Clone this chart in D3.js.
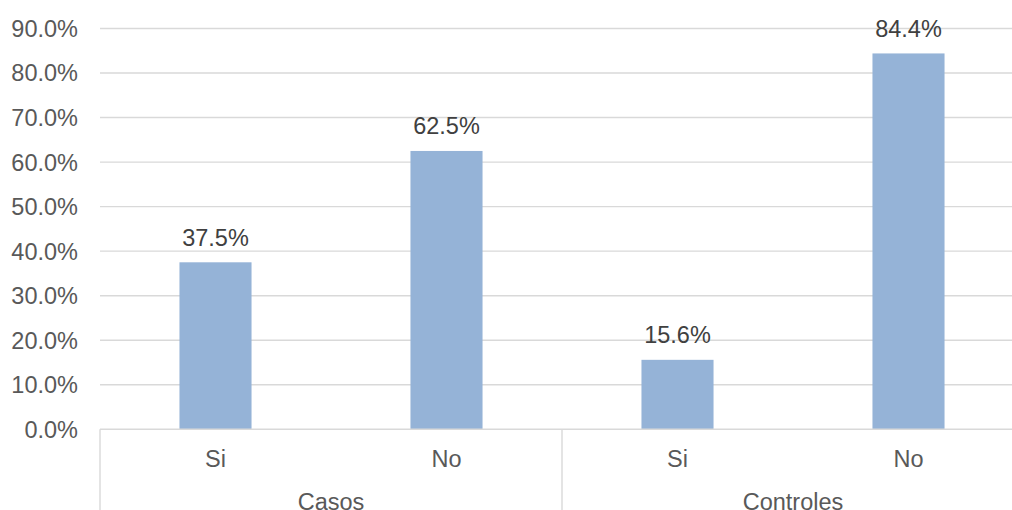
<!DOCTYPE html>
<html>
<head>
<meta charset="utf-8">
<script src="https://cdn.jsdelivr.net/npm/d3@7"></script>
<style>
  html, body { margin: 0; padding: 0; background: #fff; }
  svg { display: block; font-family: "Liberation Sans", Arial, sans-serif; }
</style>
</head>
<body>
<svg id="chart" width="1012" height="510"></svg>
<script>
// Grouped categories and their percentages
const groups = ["Casos", "Controles"];
const answers = ["Si", "No"];
const values = [
  [37.5, 62.5],   // Casos: Si, No
  [15.6, 84.4]    // Controles: Si, No
];
const yTicks = [0, 10, 20, 30, 40, 50, 60, 70, 80, 90];

const svg = d3.select("#chart");
const plotLeft = 100, plotRight = 1024, plotTop = 28.5, plotBase = 429.3;
const textColor = "#595959", valueColor = "#404040", gridColor = "#d9d9d9", barColor = "#95b3d7";

const y = d3.scaleLinear().domain([0, 90]).range([plotBase, plotTop]);
const xGroup = d3.scaleBand().domain(groups).range([plotLeft, plotRight]);
const xInner = d3.scaleBand().domain(answers)
  .range([0, xGroup.bandwidth()])
  .paddingInner(0.688).paddingOuter(0.344);

// Horizontal gridlines
svg.append("g").selectAll("line")
  .data(yTicks.filter(d => d > 0))
  .join("line")
  .attr("x1", plotLeft).attr("x2", plotRight)
  .attr("y1", d => y(d)).attr("y2", d => y(d))
  .attr("stroke", gridColor).attr("stroke-width", 1.4);

// Y axis tick labels
svg.append("g").selectAll("text")
  .data(yTicks)
  .join("text")
  .attr("x", 78).attr("y", d => y(d))
  .attr("dy", "0.36em")
  .attr("text-anchor", "end")
  .attr("font-size", 23.5)
  .attr("fill", textColor)
  .text(d => d.toFixed(1) + "%");

// Bars and value labels
const g = svg.append("g").selectAll("g")
  .data(groups)
  .join("g")
  .attr("transform", d => `translate(${xGroup(d)},0)`);

g.selectAll("rect")
  .data((d, i) => answers.map((a, j) => ({ a, v: values[i][j] })))
  .join("rect")
  .attr("x", d => xInner(d.a))
  .attr("width", xInner.bandwidth())
  .attr("y", d => y(d.v))
  .attr("height", d => plotBase - y(d.v))
  .attr("fill", barColor);

g.selectAll("text.val")
  .data((d, i) => answers.map((a, j) => ({ a, v: values[i][j] })))
  .join("text")
  .attr("class", "val")
  .attr("x", d => xInner(d.a) + xInner.bandwidth() / 2)
  .attr("y", d => y(d.v) - 16.5)
  .attr("text-anchor", "middle")
  .attr("font-size", 23.5)
  .attr("fill", valueColor)
  .text(d => d.v.toFixed(1) + "%");

// Category axis: baseline and group separators
svg.append("line")
  .attr("x1", plotLeft).attr("x2", plotRight)
  .attr("y1", plotBase).attr("y2", plotBase)
  .attr("stroke", gridColor).attr("stroke-width", 1.4);

svg.append("g").selectAll("line")
  .data(groups.map(d => xGroup(d)).concat([plotRight]))
  .join("line")
  .attr("x1", d => d).attr("x2", d => d)
  .attr("y1", plotBase).attr("y2", 510)
  .attr("stroke", gridColor).attr("stroke-width", 1.4);

// Inner category labels
g.selectAll("text.cat")
  .data(answers)
  .join("text")
  .attr("class", "cat")
  .attr("x", d => xInner(d) + xInner.bandwidth() / 2)
  .attr("y", 467)
  .attr("text-anchor", "middle")
  .attr("font-size", 23.5)
  .attr("fill", textColor)
  .text(d => d);

// Group labels
svg.append("g").selectAll("text")
  .data(groups)
  .join("text")
  .attr("x", d => xGroup(d) + xGroup.bandwidth() / 2)
  .attr("y", 510)
  .attr("text-anchor", "middle")
  .attr("font-size", 23.5)
  .attr("fill", textColor)
  .text(d => d);
</script>
</body>
</html>
